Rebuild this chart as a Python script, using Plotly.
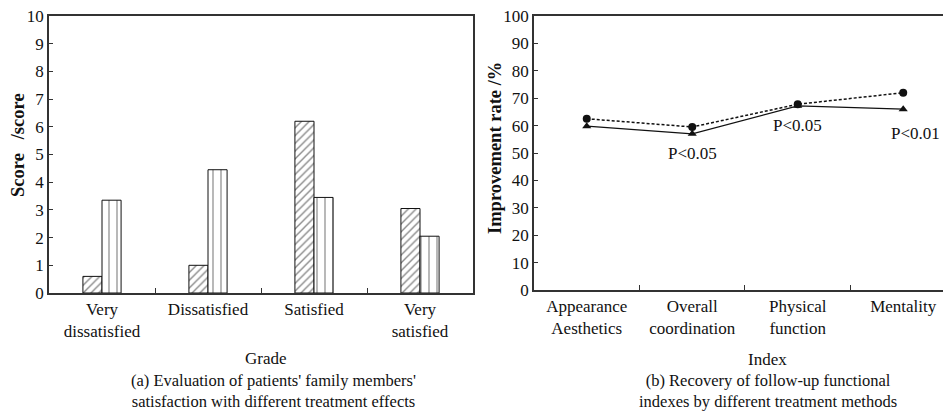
import plotly.graph_objects as go

# ---- data: panel (a) ----
grades = ["Very<br>dissatisfied", "Dissatisfied", "Satisfied", "Very<br>satisfied"]
score_hatched = [0.6, 1.0, 6.2, 3.05]
score_striped = [3.35, 4.45, 3.45, 2.05]
score_ticks = list(range(0, 11))

# ---- data: panel (b) ----
indexes = ["Appearance<br>Aesthetics", "Overall<br>coordination", "Physical<br>function", "Mentality"]
rate_circle = [62.5, 59.5, 67.8, 72.0]
rate_triangle = [59.8, 57.0, 67.2, 66.0]
rate_ticks = list(range(0, 101, 10))
p_labels = ["", "P<0.05", "P<0.05", "P<0.01"]
p_label_y = [None, 50, 60, 57]

FONT = "Liberation Serif, Times New Roman, serif"
INK = "#111111"
AX = "#333333"
NB = "\u00a0"

# page has an 8px body margin, so the figure is 943x407 placed at (8, 8)
W, H, OFF = 943, 407, 8
def px_x(x):
    return (x - OFF) / W
def px_y(y):
    return 1 - (y - OFF) / H

fig = go.Figure()

fig.add_trace(go.Bar(
    x=grades, y=score_hatched, xaxis="x", yaxis="y",
    marker=dict(color="white", line=dict(color=INK, width=1),
                pattern=dict(shape="/", size=5.5, solidity=0.25, fgcolor=INK, bgcolor="white")),
    showlegend=False))
fig.add_trace(go.Bar(
    x=grades, y=score_striped, xaxis="x", yaxis="y",
    marker=dict(color="white", line=dict(color=INK, width=1),
                pattern=dict(shape="|", size=8, solidity=0.15, fgcolor=INK, bgcolor="white")),
    showlegend=False))

fig.add_trace(go.Scatter(
    x=indexes, y=rate_circle, xaxis="x2", yaxis="y2", mode="lines+markers",
    line=dict(color=INK, width=1.5, dash="3px,2px"),
    marker=dict(symbol="circle", size=8, color=INK), showlegend=False))
fig.add_trace(go.Scatter(
    x=indexes, y=rate_triangle, xaxis="x2", yaxis="y2", mode="lines+markers",
    line=dict(color=INK, width=1.2),
    marker=dict(symbol="triangle-up", size=8, color=INK), showlegend=False))

TICKFONT = dict(family=FONT, size=17, color=INK)
common_ax = dict(showline=True, linecolor=AX, linewidth=1.5, showgrid=False, zeroline=False,
                 ticks="inside", tickcolor=AX, tickfont=TICKFONT, automargin=False,
                 ticklabeloverflow="allow")

annotations = []
p_shift = [0, 0, 0, 12]
for cat, txt, yy, sh in zip(indexes, p_labels, p_label_y, p_shift):
    if txt:
        annotations.append(dict(x=cat, y=yy, xref="x2", yref="y2", text=txt, showarrow=False,
                                xanchor="center", yanchor="middle", xshift=sh,
                                font=dict(family=FONT, size=17, color=INK)))

def paper_text(xpx, ypx, text, size=17, angle=0):
    return dict(x=px_x(xpx), y=px_y(ypx), xref="paper", yref="paper", text=text,
                showarrow=False, xanchor="center", yanchor="middle", textangle=angle,
                font=dict(family=FONT, size=size, color=INK))

annotations.append(paper_text(266, 358, "Grade"))
annotations.append(paper_text(767, 359, "Index"))
annotations.append(paper_text(273, 391,
                              "(a) Evaluation of patients' family members'<br>satisfaction with different treatment effects",
                              size=16.5))
annotations.append(paper_text(768, 391,
                              "(b) Recovery of follow-up functional<br>indexes by different treatment methods",
                              size=16.5))
annotations.append(paper_text(18, 145, "<b>Score" + NB * 3 + "/score</b>", size=18.5, angle=-90))
annotations.append(paper_text(495, 148, "<b>Improvement rate /%</b>", size=18.5, angle=-90))

fig.update_layout(
    width=W, height=H,
    margin=dict(l=0, r=0, t=0, b=0, autoexpand=False),
    paper_bgcolor="white", plot_bgcolor="white",
    barmode="group", bargap=0.64, bargroupgap=0.0,
    font=dict(family=FONT, size=17, color=INK),
    xaxis=dict(domain=[px_x(49), px_x(473)], anchor="y", type="category",
               range=[-0.5, 3.5], tickson="boundaries", ticklen=5, mirror=True,
               **common_ax),
    yaxis=dict(domain=[px_y(293), px_y(16)], anchor="x", range=[0, 10],
               tickvals=score_ticks, ticklen=4, mirror=True,
               **common_ax),
    xaxis2=dict(domain=[px_x(534), 1.0], anchor="y2", type="category",
                range=[-0.5, 3.453], tickson="boundaries", ticklen=5, mirror=True,
                **common_ax),
    yaxis2=dict(domain=[px_y(290), px_y(16)], anchor="x2", range=[0, 100],
                tickvals=rate_ticks, ticklen=4, mirror=False,
                **common_ax),
    annotations=annotations,
)

fig.write_html("out.html")
